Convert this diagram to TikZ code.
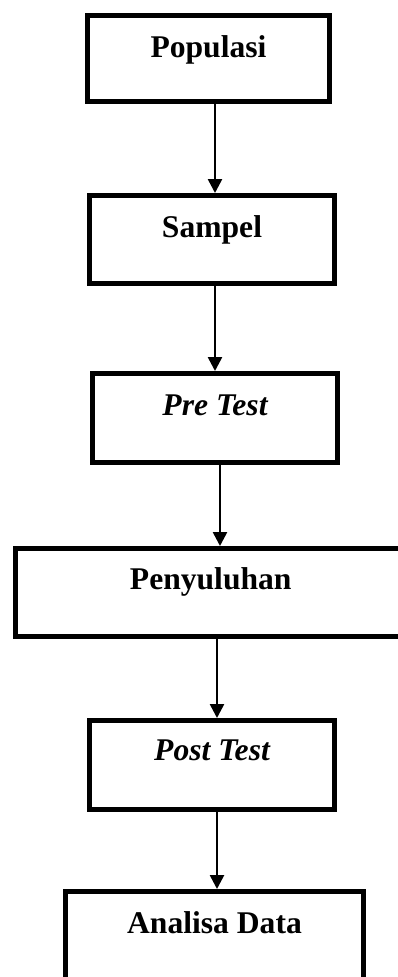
\documentclass[tikz,border=0pt]{standalone}
\usepackage{fontspec}
\setmainfont{Liberation Serif}
\usetikzlibrary{arrows.meta}
\tikzset{
  flowbox/.style={draw, line width=5pt, rectangle, inner sep=0pt, outer sep=0pt,
    anchor=north west, align=center,
    font=\fontsize{31.6}{38}\selectfont\bfseries},
  flowarrow/.style={line width=2.6pt, -{Triangle[width=14pt,length=14pt]}, shorten >=2.5pt}
}
\begin{document}
\begin{tikzpicture}[x=1pt,y=-1pt]
\clip (0,0) rectangle (398,977);
\fill[white] (0,0) rectangle (398,977);
\node[flowbox, minimum width=242pt, minimum height=86pt, text height=41.5pt, text depth=44.5pt] (pop) at (87.5,15.5) {Populasi};
\node[flowbox, minimum width=245pt, minimum height=88pt, text height=41.5pt, text depth=46.5pt] (sam) at (89.5,195.5) {Sampel};
\node[flowbox, minimum width=245pt, minimum height=89pt, text height=41.5pt, text depth=47.5pt] (pre) at (92.5,373.5) {\itshape Pre Test};
\node[flowbox, minimum width=390.5pt, minimum height=88pt, text height=40.5pt, text depth=47.5pt] (pen) at (15.5,548.5) {Penyuluhan};
\node[flowbox, minimum width=245pt, minimum height=89pt, text height=40pt, text depth=49pt] (post) at (89.5,720.5) {\itshape Post Test};
\node[flowbox, minimum width=298pt, minimum height=88pt, text height=41.5pt, text depth=46.5pt] (ana) at (65.5,891.5) {Analisa Data};
\coordinate (ax1) at (215,0);
\coordinate (ax2) at (215,0);
\coordinate (ax3) at (220,0);
\coordinate (ax4) at (217,0);
\coordinate (ax5) at (217,0);
\draw[flowarrow] (pop.south -| ax1) -- (sam.north -| ax1);
\draw[flowarrow] (sam.south -| ax2) -- (pre.north -| ax2);
\draw[flowarrow] (pre.south -| ax3) -- (pen.north -| ax3);
\draw[flowarrow] (pen.south -| ax4) -- (post.north -| ax4);
\draw[flowarrow] (post.south -| ax5) -- (ana.north -| ax5);
\end{tikzpicture}
\end{document}
